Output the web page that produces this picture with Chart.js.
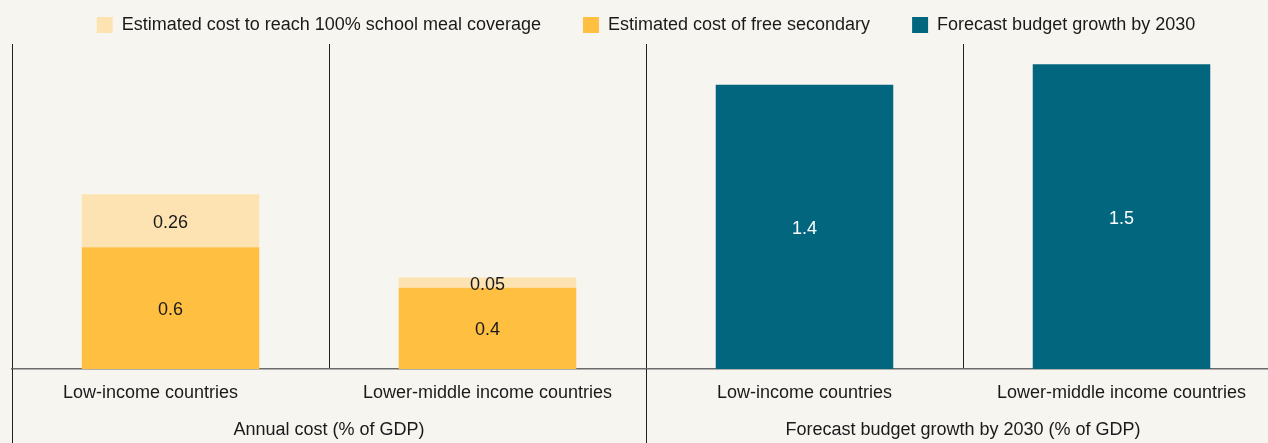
<!DOCTYPE html>
<html>
<head>
<meta charset="utf-8">
<script src="https://cdn.jsdelivr.net/npm/chart.js@4"></script>
<style>
  html, body { margin: 0; padding: 0; background: #f7f5f0; overflow: hidden; }
  canvas { display: block; }
</style>
</head>
<body>
<canvas id="grafico" width="1280" height="443"></canvas>
<script>
// categorias y grupos
const categories = [
    'Low-income countries',
    'Lower-middle income countries',
    'Low-income countries',
    'Lower-middle income countries'
];
const groups = ['Annual cost (% of GDP)', 'Forecast budget growth by 2030 (% of GDP)'];

// valores de cada serie
const freeSecondary = [0.6, 0.4, null, null];
const mealCoverage = [0.26, 0.05, null, null];
const budgetGrowth = [null, null, 1.4, 1.5];

// orden en la leyenda (por indice de dataset)
const legendRank = [1, 0, 2];

Chart.defaults.font.family = "'Liberation Sans', Arial, sans-serif";
Chart.defaults.font.size = 18;
Chart.defaults.color = '#1a1a1a';

// fondo del lienzo
const fondo = {
    id: 'fondo',
    beforeDraw(chart) {
        const ctx = chart.ctx;
        ctx.save();
        ctx.fillStyle = '#f7f5f0';
        ctx.fillRect(0, 0, chart.width, chart.height);
        ctx.restore();
    }
};

// valores dentro de las barras
const etiquetas = {
    id: 'etiquetas',
    afterDatasetsDraw(chart) {
        const ctx = chart.ctx;
        ctx.save();
        ctx.font = "18px 'Liberation Sans', Arial, sans-serif";
        ctx.textAlign = 'center';
        ctx.textBaseline = 'middle';
        chart.data.datasets.forEach((ds, i) => {
            const meta = chart.getDatasetMeta(i);
            meta.data.forEach((bar, j) => {
                const v = ds.data[j];
                if (v === null || v === undefined) return;
                const p = bar.getProps(['x', 'y', 'base'], true);
                ctx.fillStyle = ds.labelColor;
                ctx.fillText(String(v), p.x, (p.y + p.base) / 2 + 2);
            });
        });
        ctx.restore();
    }
};

// lineas que separan los grupos debajo del eje
const separadores = {
    id: 'separadores',
    afterDraw(chart) {
        const x = chart.scales.x;
        const ctx = chart.ctx;
        const half = (x.getPixelForValue(1) - x.getPixelForValue(0)) / 2;
        const cortes = [x.getPixelForValue(0) - half, x.getPixelForValue(2) - half];
        ctx.save();
        ctx.strokeStyle = '#222';
        ctx.lineWidth = 1;
        cortes.forEach(px => {
            const xx = Math.round(px) + 0.5;
            ctx.beginPath();
            ctx.moveTo(xx, chart.chartArea.bottom);
            ctx.lineTo(xx, chart.height);
            ctx.stroke();
        });
        ctx.restore();
    }
};

const data = {
    labels: categories,
    datasets: [
        {
            label: 'Estimated cost of free secondary',
            data: freeSecondary,
            backgroundColor: '#ffbf40',
            labelColor: '#1a1a1a'
        },
        {
            label: 'Estimated cost to reach 100% school meal coverage',
            data: mealCoverage,
            backgroundColor: '#fee3b2',
            labelColor: '#1a1a1a'
        },
        {
            label: 'Forecast budget growth by 2030',
            data: budgetGrowth,
            backgroundColor: '#02677e',
            labelColor: '#ffffff'
        }
    ]
};

const config = {
    type: 'bar',
    data: data,
    options: {
        responsive: false,
        animation: false,
        devicePixelRatio: 1,
        categoryPercentage: 0.7,
        barPercentage: 0.8,
        layout: { padding: { left: 12, right: 0, top: 4, bottom: 0 } },
        plugins: {
            tooltip: { enabled: false },
            legend: {
                position: 'top',
                labels: {
                    boxWidth: 16,
                    boxHeight: 16,
                    padding: 12,
                    color: '#1a1a1a',
                    sort: (a, b) => legendRank[a.datasetIndex] - legendRank[b.datasetIndex],
                    generateLabels(chart) {
                        const items = Chart.defaults.plugins.legend.labels.generateLabels(chart);
                        items.forEach(it => {
                            it.lineWidth = 0;
                            if (it.datasetIndex !== 2) it.text = it.text + '      ';
                        });
                        return items;
                    }
                }
            }
        },
        scales: {
            x: {
                stacked: true,
                grid: {
                    offset: true,
                    color: '#222',
                    lineWidth: 1,
                    drawTicks: false
                },
                border: { color: '#6b6b6b', width: 1.5 },
                ticks: {
                    padding: 15,
                    maxRotation: 0,
                    autoSkip: false,
                    font: { lineHeight: 1 },
                    // la primera etiqueta va un poco corrida a la izquierda
                    callback: function(value, index) {
                        const txt = this.getLabelForValue(value);
                        return index === 0 ? txt + '        ' : txt;
                    }
                }
            },
            x2: {
                type: 'category',
                labels: groups,
                position: 'bottom',
                offset: true,
                grid: { display: false, drawTicks: false },
                border: { display: false },
                ticks: { padding: 4, maxRotation: 0, autoSkip: false, font: { lineHeight: 1 } }
            },
            y: {
                stacked: true,
                display: false,
                min: 0,
                max: 1.6
            }
        }
    },
    plugins: [fondo, etiquetas, separadores]
};

const myChart = new Chart(document.getElementById('grafico'), config);
</script>
</body>
</html>
